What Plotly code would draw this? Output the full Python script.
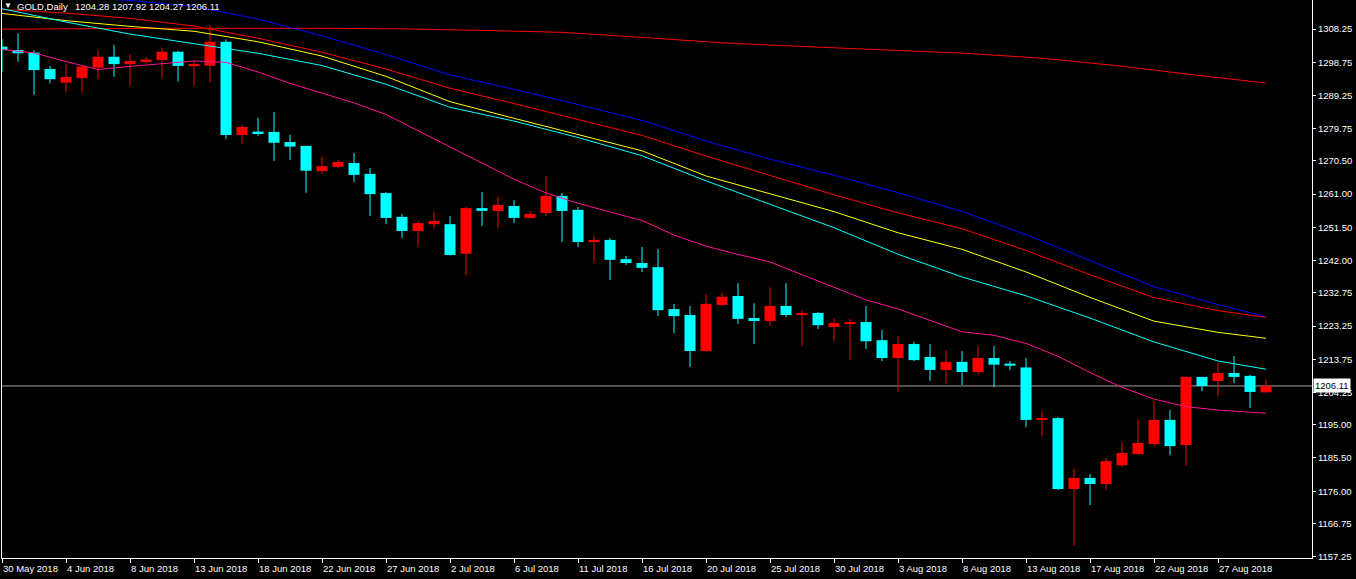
import plotly.graph_objects as go

# ---------------- data ----------------
symbol = "GOLD,Daily"

opens = [1303.2, 1302.24, 1301.5, 1296.8, 1292.9, 1294.2, 1297.2, 1300.3, 1298.2, 1298.8,
         1299.4, 1301.75, 1297.75, 1297.75, 1304.6, 1277.9, 1278.9, 1278.8, 1275.9, 1274.8,
         1267.6, 1268.8, 1269.9, 1266.8, 1261.3, 1254.5, 1250.45, 1252.4, 1252.4, 1243.95,
         1257.0, 1256.2, 1257.6, 1254.2, 1255.6, 1260.5, 1256.5, 1247.3, 1247.9, 1242.4,
         1241.3, 1240.1, 1228.1, 1226.4, 1216.1, 1229.3, 1231.85, 1225.55, 1224.7, 1229.0,
         1226.4, 1227.0, 1223.0, 1223.8, 1224.4, 1219.2, 1214.1, 1218.1, 1214.4, 1210.7,
         1213.0, 1210.1, 1214.1, 1212.5, 1211.4, 1196.4, 1196.9, 1176.6, 1179.8, 1178.05,
         1183.4, 1186.6, 1189.5, 1196.4, 1189.2, 1208.7, 1207.5, 1209.8, 1209.0, 1204.28]
highs = [1305.4, 1307.0, 1302.2, 1297.7, 1298.4, 1297.9, 1302.2, 1303.7, 1301.1, 1300.2,
         1302.9, 1302.0, 1299.1, 1309.4, 1305.3, 1280.8, 1282.8, 1284.5, 1278.0, 1274.8,
         1271.6, 1270.8, 1272.8, 1268.5, 1261.6, 1255.3, 1253.3, 1255.9, 1254.7, 1257.4,
         1261.6, 1260.2, 1259.3, 1256.2, 1266.2, 1261.3, 1257.3, 1249.0, 1248.4, 1243.3,
         1245.9, 1245.3, 1229.6, 1229.0, 1232.4, 1232.7, 1235.6, 1229.8, 1234.4, 1235.6,
         1227.8, 1227.3, 1225.55, 1225.3, 1229.0, 1222.1, 1220.4, 1218.7, 1218.1, 1216.4,
         1216.1, 1217.5, 1217.5, 1213.2, 1214.1, 1198.9, 1197.2, 1182.35, 1180.9, 1185.5,
         1190.1, 1196.6, 1201.8, 1199.2, 1208.9, 1208.7, 1212.7, 1214.7, 1209.3, 1207.92]
lows = [1295.9, 1298.9, 1289.4, 1292.7, 1290.3, 1290.0, 1293.9, 1294.6, 1291.9, 1298.4,
        1294.1, 1293.2, 1291.9, 1292.9, 1276.8, 1275.4, 1277.7, 1270.5, 1270.8, 1261.4,
        1266.8, 1268.5, 1264.5, 1254.7, 1252.4, 1248.4, 1245.9, 1251.3, 1243.4, 1237.9,
        1251.9, 1251.3, 1252.7, 1254.0, 1254.7, 1247.3, 1245.9, 1241.3, 1236.4, 1240.7,
        1238.7, 1226.1, 1221.2, 1211.5, 1215.8, 1229.0, 1223.8, 1218.1, 1223.2, 1225.8,
        1217.5, 1222.4, 1218.9, 1213.6, 1216.7, 1213.2, 1204.5, 1213.2, 1207.5, 1206.7,
        1206.4, 1209.3, 1205.8, 1210.7, 1194.3, 1191.8, 1176.3, 1160.3, 1172.0, 1176.3,
        1182.9, 1186.6, 1188.9, 1186.3, 1183.2, 1204.6, 1203.2, 1206.9, 1199.8, 1204.27]
closes = [1302.2, 1301.3, 1296.5, 1293.9, 1294.5, 1297.5, 1300.3, 1298.2, 1299.1, 1299.5,
          1301.75, 1297.7, 1298.0, 1304.6, 1277.9, 1280.2, 1278.4, 1275.7, 1274.6, 1267.7,
          1269.0, 1270.2, 1266.5, 1261.0, 1254.2, 1250.45, 1252.7, 1253.3, 1243.6, 1257.0,
          1256.2, 1257.9, 1254.2, 1255.3, 1260.5, 1256.2, 1247.3, 1247.9, 1242.2, 1241.3,
          1239.9, 1227.8, 1226.1, 1216.1, 1229.6, 1231.6, 1225.3, 1224.7, 1229.0, 1226.4,
          1227.0, 1223.5, 1224.1, 1224.4, 1218.9, 1214.1, 1218.1, 1213.5, 1210.7, 1213.0,
          1210.1, 1214.1, 1212.2, 1211.9, 1196.4, 1196.9, 1176.6, 1179.8, 1178.05, 1184.6,
          1186.9, 1189.8, 1196.4, 1188.9, 1208.7, 1206.1, 1209.8, 1208.7, 1204.4, 1206.11]

# moving averages (bar index -> value)
ma_bars = [0, 4, 8, 12, 16, 20, 24, 28, 32, 36, 40, 44, 48, 52, 56, 60, 64, 68, 72, 76, 79]
ma_blue = [1318.8, 1317.7, 1316.4, 1314.7, 1311.1, 1306.3, 1300.95, 1295.1, 1291.0, 1286.65,
           1282.1, 1276.2, 1271.0, 1266.4, 1261.4, 1256.05, 1249.4, 1242.0, 1234.5, 1229.4, 1225.9]
ma_red = [1313.86, 1312.8, 1311.3, 1309.1, 1305.6, 1301.6, 1296.8, 1291.3, 1286.9, 1282.35,
          1277.8, 1271.9, 1266.3, 1260.8, 1255.65, 1251.1, 1244.9, 1237.95, 1231.4, 1227.65, 1225.75]
ma_yellow = [1312.7, 1310.65, 1309.0, 1307.6, 1304.6, 1300.5, 1294.7, 1287.45, 1282.7, 1278.05,
             1273.4, 1266.2, 1261.2, 1256.0, 1249.95, 1245.2, 1238.75, 1231.45, 1224.65, 1221.45, 1219.75]
ma_cyan = [1314.05, 1310.25, 1306.8, 1304.15, 1301.3, 1297.8, 1292.45, 1285.85, 1281.9, 1277.2,
           1272.0, 1264.8, 1258.1, 1251.4, 1243.8, 1237.3, 1231.9, 1225.55, 1218.7, 1213.25, 1210.9]

pink_bars = [0, 2, 4, 6, 8, 10, 12, 14, 16, 18, 20, 22, 24, 26, 28, 30, 32, 34, 36, 38,
             40, 42, 44, 46, 48, 50, 52, 54, 56, 58, 60, 62, 64, 66, 68, 70, 72, 74, 76, 78, 79]
ma_pink = [1302.4, 1301.4, 1298.95, 1296.65, 1297.55, 1298.3, 1299.1, 1298.7, 1295.95, 1292.7,
           1289.8, 1287.1, 1283.8, 1279.2, 1274.55, 1270.0, 1265.25, 1261.35, 1258.4, 1255.9,
           1253.45, 1249.3, 1246.1, 1243.75, 1241.6, 1237.95, 1234.25, 1230.75, 1228.15, 1224.85,
           1221.6, 1220.6, 1218.3, 1214.6, 1209.95, 1205.7, 1202.35, 1200.2, 1199.2, 1198.6, 1198.3]

long_bars = [0, 10, 20, 25, 30, 35, 40, 45, 50, 55, 60, 65, 70, 75, 79]
ma_long = [1308.2, 1308.45, 1308.45, 1308.3, 1307.85, 1307.3, 1305.85, 1304.3, 1303.25,
           1302.35, 1301.35, 1299.9, 1297.6, 1294.85, 1292.8]

tick_bars = [0, 4, 8, 12, 16, 20, 24, 28, 32, 36, 40, 44, 48, 52, 56, 60, 64, 68, 72, 76]
tick_labels = ["30 May 2018", "4 Jun 2018", "8 Jun 2018", "13 Jun 2018", "18 Jun 2018",
               "22 Jun 2018", "27 Jun 2018", "2 Jul 2018", "6 Jul 2018", "11 Jul 2018",
               "16 Jul 2018", "20 Jul 2018", "25 Jul 2018", "30 Jul 2018", "3 Aug 2018",
               "8 Aug 2018", "13 Aug 2018", "17 Aug 2018", "22 Aug 2018", "27 Aug 2018"]

price_ticks = [1308.25, 1298.75, 1289.25, 1279.75, 1270.50, 1261.00, 1251.50, 1242.00,
               1232.75, 1223.25, 1213.75, 1204.25, 1195.00, 1185.50, 1176.00, 1166.75, 1157.25]

# ---------------- styles ----------------
UP = "#ff0000"
DOWN = "#00ffff"
FONT = "Liberation Sans"

n = len(opens)
idx = list(range(n))

fig = go.Figure()

for color, is_up in ((UP, True), (DOWN, False)):
    xs, bases, heights, wx, wy = [], [], [], [], []
    for i in idx:
        up = closes[i] >= opens[i]
        if up != is_up:
            continue
        lo = min(opens[i], closes[i])
        hi = max(opens[i], closes[i])
        xs.append(i)
        bases.append(lo)
        heights.append(max(hi - lo, 0.3))
        wx += [i, i, None]
        wy += [lows[i], highs[i], None]
    fig.add_trace(go.Bar(x=xs, y=heights, base=bases, width=0.69,
                         marker=dict(color=color, line=dict(width=0)),
                         showlegend=False, hoverinfo="skip"))
    fig.add_trace(go.Scatter(x=wx, y=wy, mode="lines",
                             line=dict(color=color, width=1),
                             showlegend=False, hoverinfo="skip"))

for xs, ys, col in ((long_bars, ma_long, "#ff0000"),
                    (ma_bars, ma_blue, "#0000ff"),
                    (ma_bars, ma_red, "#ff0000"),
                    (ma_bars, ma_yellow, "#ffff00"),
                    (ma_bars, ma_cyan, "#00ffff"),
                    (pink_bars, ma_pink, "#ff1493")):
    fig.add_trace(go.Scatter(x=xs, y=ys, mode="lines", line=dict(color=col, width=1),
                             showlegend=False, hoverinfo="skip"))

last_close = closes[-1]
fig.add_shape(type="line", xref="paper", x0=0, x1=1, yref="y", y0=last_close, y1=last_close,
              line=dict(color="#a0a0a0", width=1), layer="below")

annotations = []
for tb, tl in zip(tick_bars, tick_labels):
    annotations.append(dict(x=tb, xref="x", y=0, yref="paper", text=tl, showarrow=False,
                            xanchor="left", yanchor="middle", yshift=-10, xshift=-1,
                            font=dict(family=FONT, size=9.5, color="white")))
annotations.append(dict(x=0, xref="paper", y=1, yref="paper", text="▼", showarrow=False,
                        xanchor="center", yanchor="middle", xshift=6, yshift=-5,
                        font=dict(family=FONT, size=8, color="white")))
annotations.append(dict(x=0, xref="paper", y=1, yref="paper", text=symbol, showarrow=False,
                        xanchor="left", yanchor="middle", xshift=13, yshift=-6,
                        font=dict(family=FONT, size=9.5, color="white")))
annotations.append(dict(x=0, xref="paper", y=1, yref="paper",
                        text=f"{opens[-1]:.2f} {highs[-1]:.2f} {lows[-1]:.2f} {closes[-1]:.2f}",
                        showarrow=False, xanchor="left", yanchor="middle", xshift=71, yshift=-6,
                        font=dict(family=FONT, size=9.5, color="white")))
annotations.append(dict(x=1, xref="paper", y=last_close, yref="y", text=f"{last_close:.2f}",
                        showarrow=False, xanchor="left", yanchor="middle", xshift=1,
                        bgcolor="white", borderpad=1,
                        font=dict(family=FONT, size=9.5, color="black")))

fig.update_layout(
    width=1356, height=579,
    margin=dict(l=2, r=44, t=0, b=21, pad=0, autoexpand=False),
    paper_bgcolor="black", plot_bgcolor="black",
    barmode="overlay",
    showlegend=False,
    font=dict(family=FONT, size=9, color="white"),
    annotations=annotations,
    xaxis=dict(range=[0, 81.875], showgrid=False, zeroline=False, showline=True,
               linecolor="white", linewidth=1, ticks="outside", ticklen=4, tickcolor="white",
               tickvals=tick_bars, showticklabels=False, fixedrange=True, automargin=False),
    yaxis=dict(range=[1156.88, 1316.55], side="right", showgrid=False, zeroline=False,
               showline=True, mirror=True, linecolor="white", linewidth=1,
               ticks="outside", ticklen=3, tickcolor="white",
               tickvals=price_ticks, ticktext=[f"{v:.2f}" for v in price_ticks],
               tickfont=dict(family=FONT, size=9.5, color="white"), fixedrange=True,
               automargin=False),
)

fig.write_html("out.html", config={"displayModeBar": False},
               post_script="document.body.style.margin='0';document.body.style.background='black';")
